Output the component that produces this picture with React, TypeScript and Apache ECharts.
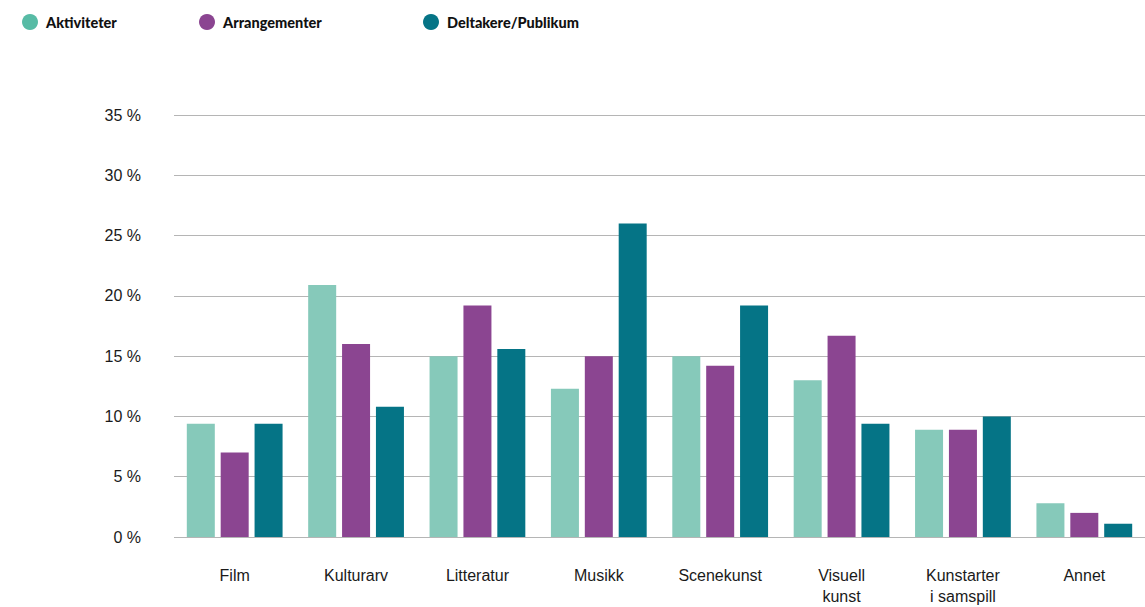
import React, { useEffect, useRef } from "react";
import * as echarts from "echarts";

const categories = ["Film", "Kulturarv", "Litteratur", "Musikk", "Scenekunst", "Visuell\nkunst", "Kunstarter\ni samspill", "Annet"];
const aktiviteter = [9.4, 20.9, 15.0, 12.3, 15.0, 13.0, 8.9, 2.8];
const arrangementer = [7.0, 16.0, 19.2, 15.0, 14.2, 16.7, 8.9, 2.0];
const deltakere = [9.4, 10.8, 15.6, 26.0, 19.2, 9.4, 10.0, 1.1];
const seriesNames = ["Aktiviteter", "Arrangementer", "Deltakere/Publikum"];
const barColors = ["#86C9BA", "#8B4591", "#057486"];
const legendColors = ["#57BBA5", "#8B4591", "#057486"];
const legendLefts = [17, 194, 418];

export default function App() {
  const ref = useRef<HTMLDivElement>(null);
  useEffect(() => {
    if (!ref.current) return;
    const chart = echarts.init(ref.current, null, { renderer: "svg" });
    const data = [aktiviteter, arrangementer, deltakere];
    chart.setOption({
      animation: false,
      textStyle: { fontFamily: "Liberation Sans" },
      legend: seriesNames.map((n, i) => ({
        data: [{ name: n, itemStyle: { color: legendColors[i] } }],
        left: legendLefts[i],
        top: 9,
        icon: "circle",
        itemWidth: 16,
        itemHeight: 16,
        itemGap: 0,
        selectedMode: false,
        textStyle: { fontFamily: "Lato", fontWeight: 900, fontSize: 14.5, color: "#111", padding: [0, 0, 0, 3] },
      })),
      grid: { left: 174, right: 0, top: 115, bottom: 66, containLabel: false },
      xAxis: {
        type: "category",
        data: categories,
        axisLine: { show: false },
        axisTick: { show: false },
        axisLabel: { fontSize: 16, color: "#1a1a1a", margin: 28, lineHeight: 21, fontFamily: "Liberation Sans", interval: 0 },
      },
      yAxis: {
        type: "value",
        min: 0,
        max: 35,
        interval: 5,
        axisLabel: { formatter: "{value} %", fontSize: 16, color: "#1a1a1a", margin: 33, fontFamily: "Liberation Sans" },
        splitLine: { lineStyle: { color: "#b5b5b5", width: 1 } },
        axisLine: { show: false },
        axisTick: { show: false },
      },
      series: seriesNames.map((n, i) => ({
        name: n,
        type: "bar",
        data: data[i],
        itemStyle: { color: barColors[i] },
        barWidth: 28,
        barGap: "21%",
      })),
    });
    return () => chart.dispose();
  }, []);
  return <div ref={ref} style={{ position: "fixed", left: 0, top: 0, width: 1145, height: 607, background: "#fff" }} />;
}
